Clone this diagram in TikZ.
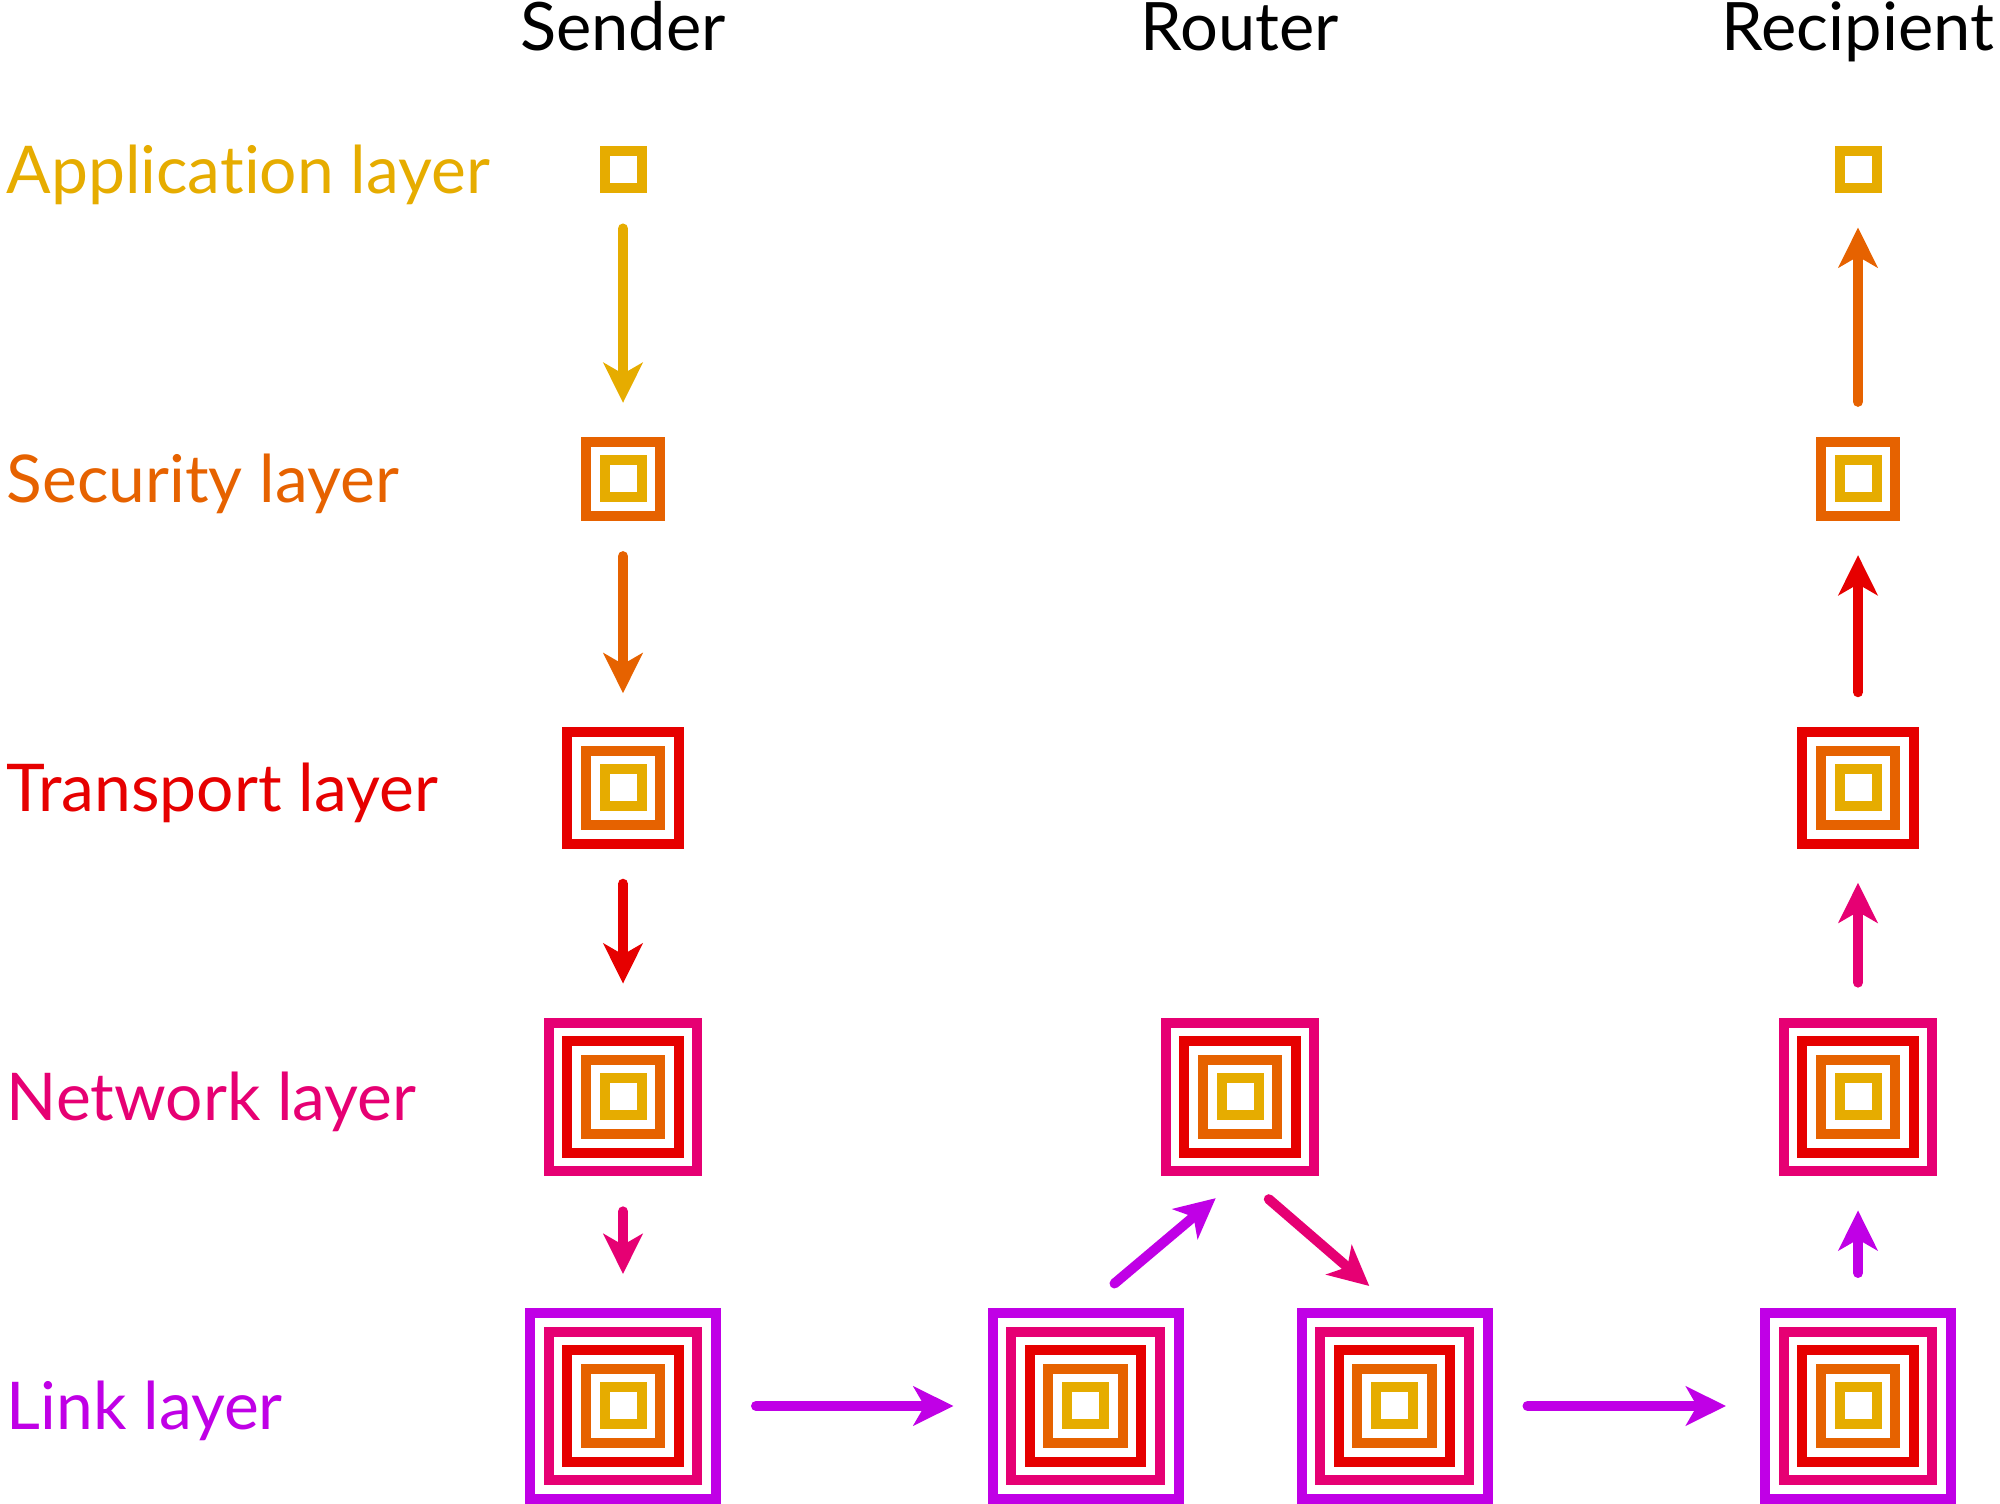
\documentclass[tikz,border=0pt]{standalone}
\usepackage{fontspec}
\setmainfont{Lato}[Ligatures=NoCommon]
\usetikzlibrary{arrows.meta}

\definecolor{farbe1}{HTML}{E6AC00}
\definecolor{farbe2}{HTML}{E66200}
\definecolor{farbe3}{HTML}{E60000}
\definecolor{farbe4}{HTML}{E60073}
\definecolor{farbe5}{HTML}{C000E6}

% Stapel aus verschachtelten Quadraten: Name, x, y, Anzahl
\newcommand{\stapel}[4]{%
    \foreach \j in {1,...,#4}{
        \pgfmathsetmacro{\seite}{0.37+(\j-1)*0.3725}
        \node[sq, draw=farbe\j, minimum size=\seite cm] at (#2,#3) {};
    }
    \pgfmathsetmacro{\aussen}{0.47+(#4-1)*0.3725}
    \node[inner sep=0pt, outer sep=0pt, minimum size=\aussen cm] (#1) at (#2,#3) {};
}

\begin{document}
\begin{tikzpicture}[
    sq/.style={line width=0.1cm, inner sep=0pt, outer sep=0pt},
    pfeil/.style={line width=0.1cm, line cap=round,
        -{Stealth[length=0.4cm, width=0.39cm, inset=0.11cm]},
        shorten <=0.35cm, shorten >=0.34cm},
    schicht/.style={anchor=base west, inner sep=0pt, font=\fontsize{18.75pt}{22pt}\selectfont},
    kopf/.style={anchor=base, inner sep=0pt, font=\fontsize{19pt}{22pt}\selectfont}
]
            \useasboundingbox (0,0) rectangle (20,15.04);
            \def\colS{6.23}
            \def\colR{12.40}
            \def\colE{18.58}

            % Spaltenköpfe:
            \node[kopf] (hs) at (\colS,14.53) {Sender};
            \node[kopf] (hr) at (\colR,14.53) {Router};
            \node[kopf] (he) at (\colE,14.53) {Recipient};

            % Schichten:
            \foreach \k/\y/\t in {1/13.34/Application layer, 2/10.25/Security layer,
                3/7.16/Transport layer, 4/4.07/Network layer, 5/0.98/Link layer}{
                \node[schicht, text=farbe\k] (l\k) at (0.06,\y-0.24) {\t};
                \stapel{s\k}{\colS}{\y}{\k}
                \stapel{e\k}{\colE}{\y}{\k}
            }

            % Router:
            \stapel{rl1}{10.855}{0.98}{5}
            \stapel{rn}{\colR}{4.07}{4}
            \stapel{rl2}{13.945}{0.98}{5}

            % Pfeile:
            \foreach \k [evaluate=\k as \n using int(\k+1)] in {1,...,4}{
                \draw[pfeil, farbe\k] (s\k) -- (s\n);
                \draw[pfeil, farbe\n] (e\n) -- (e\k);
            }
            \draw[pfeil, farbe5] (s5) -- (rl1);
            \draw[pfeil, farbe5] (rl2) -- (e5);
            \draw[pfeil, farbe5, shorten <=0pt, shorten >=0pt]
                ([shift={(0.29,0.245)}]rl1.north) -- ([shift={(-0.243,-0.218)}]rn.south);
            \draw[pfeil, farbe4, shorten <=0pt, shorten >=0pt]
                ([shift={(0.288,-0.228)}]rn.south) -- ([shift={(-0.252,0.22)}]rl2.north);

      \end{tikzpicture}
\end{document}
